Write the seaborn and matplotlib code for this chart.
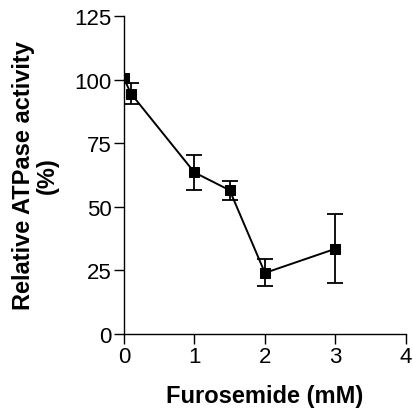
import pandas as pd
import matplotlib.pyplot as plt
import seaborn as sns

# furosemide concentration (mM) vs relative ATPase activity (%)
furosemide = [0, 0.1, 1, 1.5, 2, 3]
activity = [100.5, 94.5, 63.5, 56.5, 24, 33.5]
err = [0, 4, 7, 3.8, 5.3, 13.6]

x_ticks = [0, 1, 2, 3, 4]
y_ticks = [0, 25, 50, 75, 100, 125]

df = pd.DataFrame({"x": furosemide, "y": activity, "err": err})
bars = df[df["err"] > 0]

sns.set_style("ticks", {"text.color": "black", "axes.labelcolor": "black",
                        "xtick.color": "black", "ytick.color": "black",
                        "axes.edgecolor": "black"})
plt.rcParams['font.family'] = ['Liberation Sans', 'DejaVu Sans']

fig = plt.figure(figsize=(4.13, 4.10), dpi=100)
ax = fig.add_axes([0.300, 0.183, 0.683, 0.7755])

ax.errorbar(bars["x"], bars["y"], yerr=bars["err"], fmt="none", ecolor="black",
            elinewidth=1.3, capsize=6, capthick=1.3, zorder=2)
sns.lineplot(data=df, x="x", y="y", ax=ax, color="black", linewidth=1.4,
             marker="s", markersize=6.5, markeredgecolor="black", zorder=3)

ax.set_xlim(0, 4)
ax.set_ylim(0, 125)
ax.set_xticks(x_ticks)
ax.set_yticks(y_ticks)
ax.tick_params(axis="both", labelsize=16, length=7, width=1, pad=2,
               color="black", labelcolor="black")
ax.set_xlabel("Furosemide (mM)", fontsize=17, fontweight="bold", labelpad=12)
ax.set_ylabel("Relative ATPase activity\n(%)", fontsize=17, fontweight="bold",
              labelpad=11, linespacing=1.05)
sns.despine(ax=ax)
for s in ["left", "bottom"]:
    ax.spines[s].set_linewidth(1)
    ax.spines[s].set_color("black")

fig.savefig("out.png", dpi=100)
plt.close()
